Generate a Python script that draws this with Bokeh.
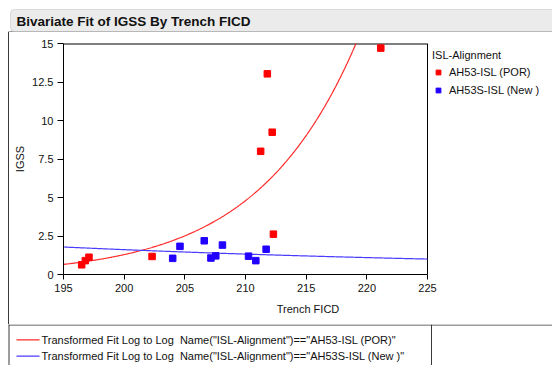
import numpy as np
from bokeh.plotting import figure
from bokeh.layouts import column, row
from bokeh.models import (Label, BoxAnnotation, Legend, LegendItem, FixedTicker,
                          NumeralTickFormatter, Range1d, Div)
from bokeh.core.properties import value
from bokeh.embed import file_html
from bokeh.resources import INLINE

# ---- data ----
por_ficd = [196.5, 196.8, 197.1, 202.3, 211.8, 212.2, 211.25, 212.3, 221.15]
por_igss = [0.63, 0.90, 1.12, 1.17, 13.03, 9.24, 8.0, 2.62, 14.7]
new_ficd = [204.0, 204.6, 206.6, 207.15, 207.55, 208.1, 210.25, 210.85, 211.7]
new_igss = [1.05, 1.83, 2.19, 1.07, 1.21, 1.91, 1.19, 0.90, 1.64]

series_names = ["AH53-ISL (POR)", "AH53S-ISL (New )"]
fit_labels = ['Transformed Fit Log to Log \u00a0Name("ISL-Alignment")=="AH53-ISL (POR)"',
              'Transformed Fit Log to Log \u00a0Name("ISL-Alignment")=="AH53S-ISL (New )"']
x_ticks = [195, 200, 205, 210, 215, 220, 225]
y_ticks = [0, 2.5, 5, 7.5, 10, 12.5, 15]
title_text = "Bivariate Fit of IGSS By Trench FICD"

FONT = "Liberation Sans"
RED = "#ff0000"
BLUE = "#2200ff"
RED_FIT = "#ff2a2a"
BLUE_FIT = "#4a3cff"
FRAME = "#3a3a3a"


def blank(w, h):
    f = figure(width=w, height=h, output_backend="svg", toolbar_location=None,
               x_range=Range1d(0, w), y_range=Range1d(h, 0),
               x_axis_type=None, y_axis_type=None, min_border=0,
               min_border_left=0, min_border_right=0, min_border_top=0, min_border_bottom=0,
               background_fill_color="white", border_fill_color="white")
    f.grid.visible = False
    f.outline_line_color = None
    return f

# ---- title strip (y 0..32) ----
pt = blank(552, 32)
pt.add_layout(BoxAnnotation(left=10, right=600, top=9, bottom=31,
                            fill_color="#ebebeb", fill_alpha=1,
                            line_color="#9a9a9a", line_width=1, border_radius=4))
pt.add_layout(Label(x=16, y=20.5, text=title_text, text_font=FONT,
                    text_font_size="13.5px", text_font_style="bold",
                    text_baseline="middle", text_color="#111111"))
pt.segment(x0=[8], y0=[31.5], x1=[552], y1=[31.5], line_color=FRAME, line_width=1)

# ---- left frame strip (x 0..9, y 32..324) ----
pl = Div(text="", width=9, height=292,
         styles={"background": "linear-gradient(to right, #ffffff 0px, #ffffff 8px, "
                               "#3a3a3a 8px, #3a3a3a 9px)",
                 "margin": "0", "padding": "0"})

# ---- main plot (x 9..552, y 32..324); frame runs on to the right edge so the
#      group legend can sit inside it ----
x_lo, x_hi = x_ticks[0], x_ticks[-1]
y_lo, y_hi = y_ticks[0], y_ticks[-1]
plot_px = 364.0                      # pixel width of the 195..225 box
frame_px = 543 - 54                  # frame runs to the right edge
x_end = x_lo + (x_hi - x_lo) * frame_px / plot_px

p = figure(width=543, height=292, output_backend="svg", toolbar_location=None,
           x_range=Range1d(x_lo, x_end), y_range=Range1d(y_lo, y_hi),
           min_border_left=54, min_border_right=0, min_border_top=11, min_border_bottom=50,
           background_fill_color="white", border_fill_color="white")
p.grid.visible = False
p.outline_line_color = None

for ax in (p.xaxis[0], p.yaxis[0]):
    ax.axis_line_color = "black"
    ax.major_tick_line_color = "black"
    ax.major_tick_in = 0
    ax.minor_tick_in = 0
    ax.minor_tick_out = 0
    ax.major_label_text_font = FONT
    ax.major_label_text_font_size = "11px"
    ax.major_label_text_color = "#111111"
    ax.axis_label_text_font = FONT
    ax.axis_label_text_font_size = "11px"
    ax.axis_label_text_font_style = "normal"
    ax.axis_label_text_color = "#111111"

p.xaxis.ticker = FixedTicker(ticks=x_ticks)
p.yaxis.ticker = FixedTicker(ticks=y_ticks)
p.xaxis.bounds = (x_lo, x_hi)
p.yaxis.formatter = NumeralTickFormatter(format="0.[0]")
p.xaxis.axis_label = "Trench FICD"
p.yaxis.axis_label = "IGSS"
p.xaxis.major_tick_out = 5
p.xaxis.major_label_standoff = 4
p.xaxis.axis_label_standoff = 8
p.yaxis.major_tick_out = 6
p.yaxis.major_label_standoff = 4
p.yaxis.axis_label_standoff = 3

# box: top and right edges of the plot area
p.segment(x0=[x_lo], y0=[y_hi], x1=[x_hi], y1=[y_hi], line_color="black", line_width=2)
p.segment(x0=[x_hi], y0=[y_lo], x1=[x_hi], y1=[y_hi], line_color="black", line_width=1)

# log-log fits computed from the points
xs = np.linspace(x_lo, x_hi, 400)
def loglog_fit(x, y):
    b, a = np.polyfit(np.log(x), np.log(y), 1)
    return np.exp(a + b * np.log(xs))

r_fit_red = p.line(xs, loglog_fit(por_ficd, por_igss), color=RED_FIT, line_width=1.2)
r_fit_blue = p.line(xs, loglog_fit(new_ficd, new_igss), color=BLUE_FIT, line_width=1.2)

r_red = p.scatter(por_ficd, por_igss, marker="square", size=6.5, color=RED)
r_blue = p.scatter(new_ficd, new_igss, marker="square", size=6.5, color=BLUE)

# group legend: left edge at x=432, bottom at y=99 of the page -> frame-relative
leg1 = Legend(items=[LegendItem(label=series_names[0], renderers=[r_red]),
                     LegendItem(label=series_names[1], renderers=[r_blue])],
              title="ISL-Alignment", location=(432 - 63, 274 - 99),
              padding=0, margin=0, spacing=0, glyph_width=12, glyph_height=18,
              label_height=18, label_standoff=5, title_standoff=2,
              border_line_color=None, background_fill_alpha=0,
              label_text_font=FONT, label_text_font_size="11px",
              label_text_color="#111111",
              title_text_font=FONT, title_text_font_size="11px",
              title_text_font_style="normal", title_text_color="#111111")
p.add_layout(leg1)

# ---- bottom fit legend strip (y 324..365) ----
pb = blank(552, 41)
pb.segment(x0=[8], y0=[0.5], x1=[552], y1=[0.5], line_color=FRAME, line_width=1)
pb.segment(x0=[8.5], y0=[0], x1=[8.5], y1=[41], line_color=FRAME, line_width=1)
pb.segment(x0=[431], y0=[0], x1=[431], y1=[41], line_color=FRAME, line_width=1)
row_y = [15.3, 31.7]
pb.segment(x0=[16, 16], y0=row_y, x1=[39, 39], y1=row_y,
           line_color=[RED_FIT, BLUE_FIT], line_width=1.2)
pb.text(x=[41, 41], y=row_y, text=fit_labels, text_font=value(FONT),
        text_font_size="11px", text_baseline="middle", text_color="#111111")

layout = column(pt, row(pl, p, spacing=0), pb, spacing=0)
open("out.html", "w").write(file_html(layout, INLINE))
